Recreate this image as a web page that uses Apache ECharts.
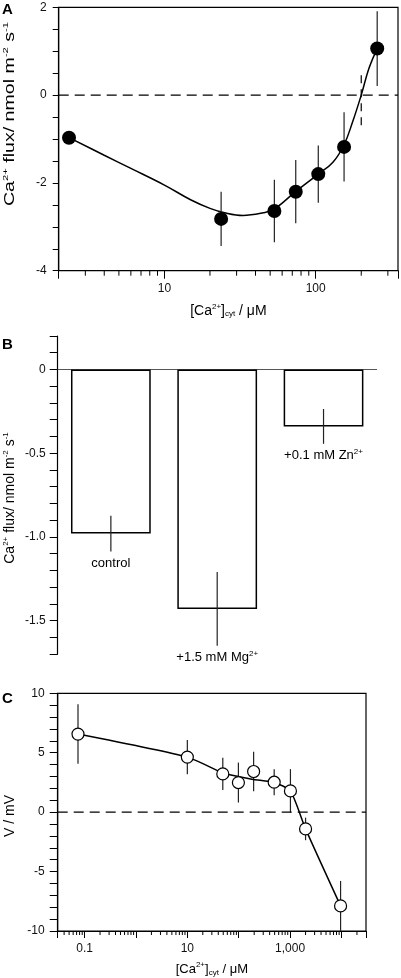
<!DOCTYPE html>
<html><head><meta charset="utf-8">
<script src="https://cdn.jsdelivr.net/npm/echarts@6/dist/echarts.min.js"></script>
<style>html,body{margin:0;padding:0;background:#fff}#c{width:401px;height:978px}</style>
</head><body><div id="c"></div>
<script>
// ---- Panel A data ----
const aX = [2.34, 23.7, 53.3, 73.8, 104, 154, 255];
const aY = [-0.97, -2.82, -2.64, -2.20, -1.80, -1.18, 1.06];
const aErr = [0.1, 0.62, 0.71, 0.72, 0.65, 0.79, 0.85];
const aFitX = [2.34, 4, 6, 10, 15, 20, 25, 33, 45, 53, 73, 104, 130, 154, 175, 200, 225, 255];
const aFitY = [-0.97, -1.37, -1.67, -2.05, -2.39, -2.58, -2.68, -2.74, -2.68, -2.60, -2.21, -1.80, -1.53, -1.13, -0.62, 0, 0.61, 1.06];
const aInterceptX = [200, 200];
const aInterceptY = [0.45, -0.7];
const aRangeX = [2, 350];
const aRangeY = [-4, 2];
// ---- Panel B data ----
const bCats = ['control', '+1.5 mM Mg2+', '+0.1 mM Zn2+'];
const bLabels = ['control', '+1.5 mM Mg{sup|2+}', '+0.1 mM Zn{sup|2+}'];
const bVals = [-0.98, -1.43, -0.34];
const bErr = [0.107, 0.22, 0.104];
const bRangeY = [-1.7, 0.2];
// ---- Panel C data ----
const cX = [0.0745, 10, 49, 98.6, 195, 490, 1015, 2000, 9600];
const cY = [6.57, 4.63, 3.22, 2.49, 3.42, 2.52, 1.79, -1.41, -7.89];
const cErr = [2.5, 1.45, 1.35, 1.68, 1.67, 1.1, 1.83, 0.95, 2.1];
const cLineX = [0.0745, 10, 49, 98.6, 195, 490, 1015, 2000, 9600];
const cLineY = [6.57, 4.63, 3.3, 3.0, 2.75, 2.5, 1.79, -1.41, -7.89];
const cRangeX = [0.03, 30000];
const cRangeY = [-10, 10];

const FONT = "'Liberation Sans', Arial, Helvetica, sans-serif";
const richBase = (fs) => ({
  a: {fontSize: fs, fontFamily: FONT, color: '#000'},
  sup: {fontSize: 8, fontFamily: FONT, color: '#000', padding: [0, 0, 8, 0]},
  sub: {fontSize: 8, fontFamily: FONT, color: '#000', padding: [7, 0, 0, 0]}
});

function minorTicks(lo, hi) {
  const out = [];
  for (let e = -3; e <= 5; e++) {
    for (let m = 2; m <= 9; m++) {
      const v = m * Math.pow(10, e);
      if (v > lo * 1.0001 && v < hi * 0.9999) out.push(+v.toPrecision(6));
    }
  }
  return out;
}
const aMinor = minorTicks(aRangeX[0], aRangeX[1]);
const cMinor = minorTicks(cRangeX[0], cRangeX[1]);

function decadeFmt(filter) {
  return function (v) {
    const l = Math.log10(v);
    const k = Math.round(l);
    if (Math.abs(l - k) > 1e-6 || !filter(k)) return '';
    const val = Math.pow(10, k);
    return k >= 3 ? val.toLocaleString('en-US') : (k < 0 ? val.toFixed(-k) : String(val));
  };
}

function errRender(color, width) {
  return function (params, api) {
    const x = api.value(0), y = api.value(1), e = api.value(2);
    const p1 = api.coord([x, y + e]);
    const p2 = api.coord([x, y - e]);
    return {type: 'line', shape: {x1: p1[0], y1: p1[1], x2: p2[0], y2: p2[1]},
      style: {stroke: color, lineWidth: width}};
  };
}
function tickRender(len) {
  return function (params, api) {
    const p = api.coord([api.value(0), api.value(1)]);
    return {type: 'line', shape: {x1: p[0], y1: p[1], x2: p[0], y2: p[1] + len},
      style: {stroke: '#000', lineWidth: 1}};
  };
}

const axLine = {show: true, onZero: false, lineStyle: {color: '#000', width: 1.2}};
const lbl = {fontSize: 12, color: '#111', fontFamily: FONT};
const xTitle = '{a|[Ca}{sup|2+}{a|]}{sub|cyt}{a| / μM}';
const dash = {color: '#000', width: 1.3, type: [10, 6]};

const option = {
  animation: false,
  textStyle: {fontFamily: FONT},
  grid: [
    {left: 58.7, top: 7.3, width: 340.3, height: 263.4, show: true, borderColor: '#000', borderWidth: 1.2},
    {left: 57.7, top: 336, width: 319, height: 318.1},
    {left: 57.7, top: 693.3, width: 308.3, height: 237.7, show: true, borderColor: '#000', borderWidth: 1.2}
  ],
  xAxis: [
    {gridIndex: 0, type: 'log', logBase: 10, min: aRangeX[0], max: aRangeX[1], axisLine: axLine,
      axisTick: {show: true, length: 8, lineStyle: {color: '#000'}}, splitLine: {show: false}, minorTick: {show: false},
      axisLabel: Object.assign({margin: 12, formatter: decadeFmt(() => true), showMinLabel: true, showMaxLabel: true}, lbl),
      name: xTitle, nameLocation: 'middle', nameGap: 32, nameTextStyle: {rich: richBase(14)}},
    {gridIndex: 1, type: 'category', data: bCats, axisLabel: {show: false}, axisTick: {show: false},
      axisLine: {show: true, onZero: true, lineStyle: {color: '#555', width: 1}}, splitLine: {show: false}},
    {gridIndex: 2, type: 'log', logBase: 10, min: cRangeX[0], max: cRangeX[1], axisLine: axLine,
      axisTick: {show: true, length: 7, lineStyle: {color: '#000'}}, splitLine: {show: false}, minorTick: {show: false},
      axisLabel: Object.assign({margin: 12, formatter: decadeFmt(k => Math.abs(k % 2) === 1), showMinLabel: true, showMaxLabel: true}, lbl),
      name: xTitle, nameLocation: 'middle', nameGap: 30, nameTextStyle: {rich: richBase(13)}}
  ],
  yAxis: [
    {gridIndex: 0, type: 'value', min: aRangeY[0], max: aRangeY[1], interval: 0.5, axisLine: axLine,
      axisTick: {show: true, length: 6, lineStyle: {color: '#000'}}, splitLine: {show: false},
      axisLabel: Object.assign({margin: 12, formatter: v => (Math.abs(v / 2 - Math.round(v / 2)) < 1e-6 ? String(Math.round(v)) : '')}, lbl)},
    {gridIndex: 1, type: 'value', min: bRangeY[0], max: bRangeY[1], interval: 0.1, axisLine: axLine,
      axisTick: {show: true, length: 8, lineStyle: {color: '#000'}}, splitLine: {show: false},
      axisLabel: Object.assign({margin: 12, formatter: v => (Math.abs(v * 2 - Math.round(v * 2)) < 1e-6 ? (Math.abs(v) < 1e-6 ? '0' : v.toFixed(1)) : '')}, lbl)},
    {gridIndex: 2, type: 'value', min: cRangeY[0], max: cRangeY[1], interval: 1, axisLine: axLine,
      axisTick: {show: true, length: 8, lineStyle: {color: '#000'}}, splitLine: {show: false},
      axisLabel: Object.assign({margin: 13, formatter: v => (Math.abs(v / 5 - Math.round(v / 5)) < 1e-6 ? String(Math.round(v)) : '')}, lbl)}
  ],
  series: [
    // Panel A
    {type: 'line', xAxisIndex: 0, yAxisIndex: 0, data: aRangeX.map(x => [x, 0]),
      showSymbol: false, lineStyle: dash, z: 1},
    {type: 'line', xAxisIndex: 0, yAxisIndex: 0, data: aFitX.map((x, i) => [x, aFitY[i]]), smooth: 0.4,
      showSymbol: false, lineStyle: {color: '#000', width: 1.5}, z: 2},
    {type: 'line', xAxisIndex: 0, yAxisIndex: 0, data: aInterceptX.map((x, i) => [x, aInterceptY[i]]),
      showSymbol: false, lineStyle: {color: '#000', width: 1.2, type: [8, 6]}, z: 2},
    {type: 'custom', xAxisIndex: 0, yAxisIndex: 0, data: aX.map((x, i) => [x, aY[i], aErr[i]]),
      encode: {x: 0, y: 1}, renderItem: errRender('#222', 1.2), z: 3},
    {type: 'scatter', xAxisIndex: 0, yAxisIndex: 0, data: aX.map((x, i) => [x, aY[i]]),
      symbolSize: 14, itemStyle: {color: '#000', opacity: 1}, z: 4},
    {type: 'custom', xAxisIndex: 0, yAxisIndex: 0, data: aMinor.map(v => [v, aRangeY[0]]), clip: false,
      encode: {x: 0, y: 1}, renderItem: tickRender(5), z: 1},
    // Panel B
    {type: 'bar', xAxisIndex: 1, yAxisIndex: 1, data: bVals, barWidth: '75%',
      itemStyle: {color: '#fff', borderColor: '#000', borderWidth: 1.5}, z: 2},
    {type: 'custom', xAxisIndex: 1, yAxisIndex: 1, data: bVals.map((v, i) => [i, v, bErr[i]]), clip: false,
      encode: {x: 0, y: 1}, z: 3,
      renderItem: function (params, api) {
        const i = api.value(0), y = api.value(1), e = api.value(2);
        const p1 = api.coord([i, y + e]);
        const p2 = api.coord([i, y - e]);
        return {type: 'group', children: [
          {type: 'line', shape: {x1: p1[0], y1: p1[1], x2: p2[0], y2: p2[1]}, style: {stroke: '#222', lineWidth: 1.2}},
          {type: 'text', x: p2[0], y: p2[1] + 12,
            style: {text: bLabels[params.dataIndex], rich: richBase(13), fontSize: 13, fontFamily: FONT, fill: '#000',
              align: 'center', verticalAlign: 'middle', textAlign: 'center', textVerticalAlign: 'middle'}}
        ]};
      }},
    // Panel C
    {type: 'line', xAxisIndex: 2, yAxisIndex: 2, data: cRangeX.map(x => [x, 0]),
      showSymbol: false, lineStyle: dash, z: 1},
    {type: 'line', xAxisIndex: 2, yAxisIndex: 2, data: cLineX.map((x, i) => [x, cLineY[i]]), smooth: 0.2,
      showSymbol: false, lineStyle: {color: '#000', width: 1.5}, z: 2},
    {type: 'custom', xAxisIndex: 2, yAxisIndex: 2, data: cX.map((x, i) => [x, cY[i], cErr[i]]),
      encode: {x: 0, y: 1}, renderItem: errRender('#222', 1.2), z: 1},
    {type: 'scatter', xAxisIndex: 2, yAxisIndex: 2, data: cX.map((x, i) => [x, cY[i]]),
      symbolSize: 12, itemStyle: {color: '#fff', borderColor: '#000', borderWidth: 1.2, opacity: 1}, z: 4},
    {type: 'custom', xAxisIndex: 2, yAxisIndex: 2, data: cMinor.map(v => [v, cRangeY[0]]), clip: false,
      encode: {x: 0, y: 1}, renderItem: tickRender(4), z: 1}
  ],
  graphic: [
    {type: 'text', left: 2, top: 2, style: {text: 'A', font: "bold 15px " + FONT, fill: '#000'}},
    {type: 'text', left: 2, top: 337, style: {text: 'B', font: "bold 15px " + FONT, fill: '#000'}},
    {type: 'text', left: 2, top: 691, style: {text: 'C', font: "bold 15px " + FONT, fill: '#000'}},
    {type: 'text', x: 10, y: 114, rotation: Math.PI / 2, scaleX: 1.4,
      style: {text: '{a|Ca}{sup|2+}{a| flux/ nmol m}{sup|-2}{a| s}{sup|-1}', rich: richBase(14),
        align: 'center', verticalAlign: 'middle', textAlign: 'center', textVerticalAlign: 'middle'}},
    {type: 'text', x: 10, y: 498, rotation: Math.PI / 2,
      style: {text: '{a|Ca}{sup|2+}{a| flux/ nmol m}{sup|-2}{a| s}{sup|-1}', rich: richBase(14),
        align: 'center', verticalAlign: 'middle', textAlign: 'center', textVerticalAlign: 'middle'}},
    {type: 'text', x: 10, y: 816, rotation: Math.PI / 2,
      style: {text: 'V / mV', font: "14px " + FONT, fill: '#000',
        align: 'center', verticalAlign: 'middle', textAlign: 'center', textVerticalAlign: 'middle'}}
  ]
};
const chart = echarts.init(document.getElementById('c'), null, {renderer: 'canvas', width: 401, height: 978});
chart.setOption(option);
</script>
</body></html>
